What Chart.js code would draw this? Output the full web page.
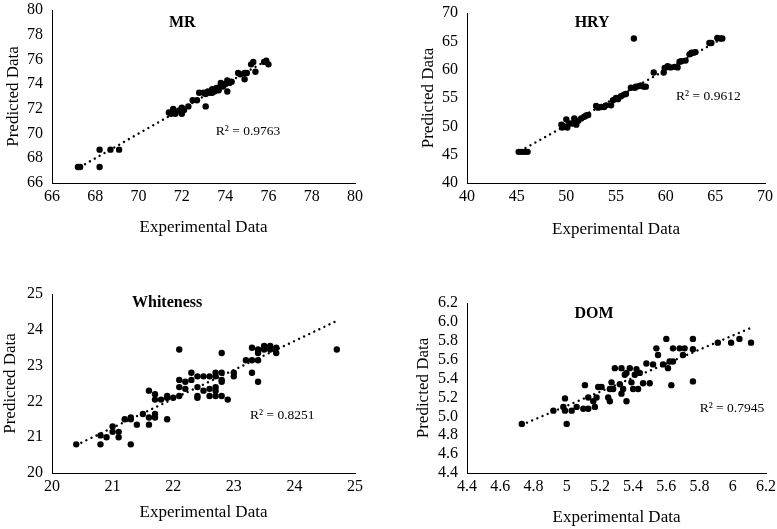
<!DOCTYPE html>
<html>
<head>
<meta charset="utf-8">
<title>Predicted vs Experimental</title>
<script src="https://cdn.jsdelivr.net/npm/chart.js@4/dist/chart.umd.min.js"></script>
<style>
  body { margin: 0; background: #fff; }
  #wrap { position: relative; width: 777px; height: 529px; overflow: hidden; }
  #wrap canvas { position: absolute; }
</style>
</head>
<body>
<div id="wrap">
  <canvas id="mr"></canvas>
  <canvas id="hry"></canvas>
  <canvas id="wh"></canvas>
  <canvas id="dom"></canvas>
</div>
<script>
// ===== DATA =====

// MR
const mrExp  = [67.2, 67.3, 68.2, 68.2, 68.7, 69.1, 71.4, 71.5, 71.6, 71.6, 71.7, 71.8, 71.9, 72.0, 72.0, 72.1, 72.3, 72.5, 72.7, 72.8, 73.0, 73.1, 73.1, 73.2, 73.3, 73.4, 73.5, 73.6, 73.7, 73.8, 73.8, 73.9, 74.0, 74.1, 74.1, 74.2, 74.3, 74.6, 74.7, 74.9, 74.9, 75.0, 75.2, 75.3, 75.4, 75.8, 75.9, 76.0, 73.4, 73.6, 73.9];
const mrPred = [67.3, 67.3, 68.7, 67.3, 68.7, 68.7, 71.7, 71.6, 71.8, 72.0, 71.6, 71.8, 71.9, 72.1, 71.6, 71.9, 72.2, 72.7, 72.7, 73.3, 73.3, 72.2, 73.2, 73.4, 73.3, 73.6, 73.4, 73.7, 73.5, 73.9, 74.1, 73.8, 74.0, 73.4, 74.3, 74.1, 74.2, 74.9, 74.8, 74.4, 74.9, 74.9, 75.6, 75.8, 75.0, 75.8, 75.9, 75.6, 73.3, 73.5, 74.0];
const mrTrendX = [67.3, 75.9];
const mrTrendY = [67.3, 75.9];
const mrTicks = [66, 68, 70, 72, 74, 76, 78, 80];

// HRY
const hryExp  = [45.2, 45.5, 45.8, 46.1, 49.5, 49.6, 49.8, 50.0, 50.1, 50.3, 50.6, 50.8, 51.0, 51.2, 51.5, 51.8, 52.0, 52.2, 53.0, 53.2, 53.5, 53.8, 54.0, 54.5, 54.7, 55.0, 55.2, 55.5, 55.8, 56.0, 56.5, 56.8, 56.9, 57.0, 57.3, 57.5, 57.8, 58.0, 58.8, 59.8, 59.9, 60.2, 60.5, 60.9, 61.2, 61.4, 61.6, 62.0, 62.4, 62.6, 62.8, 63.0, 64.4, 64.6, 65.2, 65.5, 65.7];
const hryPred = [45.5, 45.5, 45.5, 45.5, 50.3, 49.8, 50.0, 51.2, 49.8, 50.5, 50.5, 51.4, 50.3, 51.0, 51.4, 51.7, 51.9, 52.0, 53.6, 53.3, 53.4, 53.4, 53.7, 53.7, 54.6, 55.0, 54.8, 55.3, 55.6, 55.7, 56.8, 65.5, 56.8, 57.0, 57.1, 57.2, 57.0, 57.0, 59.5, 59.5, 60.3, 60.6, 60.4, 60.5, 60.4, 61.4, 61.5, 61.6, 62.7, 63.0, 63.0, 63.1, 64.7, 64.7, 65.6, 65.5, 65.5];
const hryTrendX = [45.4, 65.6];
const hryTrendY = [45.7, 65.4];
const hryTicks = [40, 45, 50, 55, 60, 65, 70];

// Whiteness
const whExp  = [20.4, 20.8, 20.8, 20.9, 21.0, 21.0, 21.1, 21.1, 21.2, 21.3, 21.3, 21.3, 21.4, 21.5, 21.6, 21.6, 21.6, 21.7, 21.7, 21.7, 21.7, 21.8, 21.9, 21.9, 21.9, 22.0, 22.1, 22.1, 22.1, 22.1, 22.2, 22.2, 22.3, 22.3, 22.4, 22.4, 22.4, 22.4, 22.5, 22.5, 22.6, 22.6, 22.6, 22.7, 22.7, 22.7, 22.7, 22.7, 22.8, 22.8, 22.8, 22.8, 22.8, 22.9, 23.0, 23.0, 23.2, 23.3, 23.3, 23.3, 23.4, 23.4, 23.4, 23.4, 23.5, 23.5, 23.6, 23.6, 23.7, 23.7, 24.7];
const whPred = [20.8, 20.8, 21.05, 21.0, 21.3, 21.15, 21.15, 21.0, 21.5, 20.8, 21.55, 21.5, 21.35, 21.65, 22.3, 21.55, 21.35, 22.2, 22.05, 21.65, 21.55, 22.05, 22.15, 22.1, 21.5, 22.1, 23.45, 22.6, 22.4, 22.15, 22.55, 22.35, 22.8, 22.6, 22.7, 22.4, 22.15, 22.1, 22.7, 22.3, 22.7, 22.35, 22.15, 22.8, 22.7, 22.4, 22.3, 22.15, 23.35, 22.8, 22.6, 22.55, 22.15, 22.05, 22.8, 22.7, 23.15, 23.5, 23.15, 22.8, 23.45, 23.35, 23.15, 22.55, 23.55, 23.45, 23.55, 23.45, 23.5, 23.35, 23.45];
const whTrendX = [20.4, 24.7];
const whTrendY = [20.78, 24.25];
const whTicks = [20, 21, 22, 23, 24, 25];

// DOM
const domExp  = [4.73, 4.92, 4.98, 4.99, 4.99, 5.00, 5.03, 5.06, 5.10, 5.11, 5.13, 5.13, 5.16, 5.17, 5.18, 5.19, 5.21, 5.25, 5.26, 5.26, 5.27, 5.28, 5.29, 5.32, 5.33, 5.33, 5.34, 5.35, 5.36, 5.36, 5.38, 5.39, 5.40, 5.41, 5.42, 5.43, 5.44, 5.46, 5.48, 5.50, 5.52, 5.54, 5.55, 5.58, 5.60, 5.61, 5.62, 5.63, 5.64, 5.64, 5.68, 5.70, 5.71, 5.76, 5.76, 5.76, 5.91, 5.99, 6.04, 6.11];
const domPred = [4.92, 5.06, 5.10, 5.19, 5.06, 4.92, 5.06, 5.10, 5.08, 5.33, 5.08, 5.20, 5.16, 5.10, 5.20, 5.31, 5.31, 5.20, 5.16, 5.29, 5.36, 5.29, 5.51, 5.34, 5.51, 5.24, 5.29, 5.44, 5.16, 5.46, 5.51, 5.36, 5.29, 5.44, 5.50, 5.29, 5.46, 5.35, 5.56, 5.35, 5.55, 5.72, 5.65, 5.55, 5.82, 5.51, 5.58, 5.33, 5.58, 5.72, 5.72, 5.65, 5.72, 5.82, 5.71, 5.37, 5.78, 5.78, 5.82, 5.78];
const domTrendX = [4.73, 6.10];
const domTrendY = [4.91, 5.93];
const domYTicks = [4.4, 4.6, 4.8, 5.0, 5.2, 5.4, 5.6, 5.8, 6.0, 6.2];
const domYLabels = ['4.4', '4.6', '4.8', '5.0', '5.2', '5.4', '5.6', '5.8', '6.0', '6.2'];
const domXTicks = [4.4, 4.6, 4.8, 5.0, 5.2, 5.4, 5.6, 5.8, 6.0, 6.2];
const domXLabels = ['4.4', '4.6', '4.8', '5', '5.2', '5.4', '5.6', '5.8', '6', '6.2'];

// ===== PANEL LAYOUT =====

const FONT = "'Liberation Serif', 'Times New Roman', serif";

const panels = [
    { id: 'mr', exp: mrExp, pred: mrPred, tx: mrTrendX, ty: mrTrendY,
      xTicks: mrTicks, yTicks: mrTicks, title: 'MR', r2: 'R\u00b2 = 0.9763',
      titlePos: [0.43, 0.075], r2Pos: [0.647, 0.70],
      box: { left: 3, top: 0, w: 385, h: 238 }, area: { left: 52, top: 10, right: 355, bottom: 183 } },
    { id: 'hry', exp: hryExp, pred: hryPred, tx: hryTrendX, ty: hryTrendY,
      xTicks: hryTicks, yTicks: hryTicks, title: 'HRY', r2: 'R\u00b2 = 0.9612',
      titlePos: [0.42, 0.06], r2Pos: [0.81, 0.49],
      box: { left: 418, top: 0, w: 359, h: 240 }, area: { left: 467, top: 13, right: 765, bottom: 183 } },
    { id: 'wh', exp: whExp, pred: whPred, tx: whTrendX, ty: whTrendY,
      xTicks: whTicks, yTicks: whTicks, title: 'Whiteness', r2: 'R\u00b2 = 0.8251',
      titlePos: [0.38, 0.05], r2Pos: [0.76, 0.68],
      box: { left: 0, top: 270, w: 385, h: 253 }, area: { left: 52, top: 294, right: 355, bottom: 473 } },
    { id: 'dom', exp: domExp, pred: domPred, tx: domTrendX, ty: domTrendY,
      xTicks: domXTicks, xLabels: domXLabels, yTicks: domYTicks, yLabels: domYLabels,
      title: 'DOM', r2: 'R\u00b2 = 0.7945',
      titlePos: [0.425, 0.065], r2Pos: [0.886, 0.62],
      box: { left: 413, top: 270, w: 364, h: 258 }, area: { left: 467, top: 303, right: 766, bottom: 473 } }
];

// draws the bold panel name and the R² label inside the plot
const labelPlugin = {
    id: 'panelLabels',
    afterDatasetsDraw(chart, args, opts) {
        const { ctx, chartArea: a } = chart;
        ctx.save();
        ctx.fillStyle = '#000';
        ctx.textAlign = 'center';
        ctx.textBaseline = 'middle';
        ctx.font = 'bold 16px ' + FONT;
        ctx.fillText(opts.title, a.left + opts.titlePos[0] * a.width, a.top + opts.titlePos[1] * a.height);
        ctx.font = '13.5px ' + FONT;
        ctx.fillText(opts.r2, a.left + opts.r2Pos[0] * a.width, a.top + opts.r2Pos[1] * a.height);
        ctx.restore();
    }
};

const makeAxis = (ticks, labels, titleText, fitSize, horizontal) => ({
    type: 'linear',
    position: horizontal ? 'bottom' : 'left',
    min: ticks[0],
    max: ticks[ticks.length - 1],
    grid: { display: false, drawTicks: false },
    border: { display: true, color: '#000', width: 1 },
    afterBuildTicks: axis => { axis.ticks = ticks.map(v => ({ value: v })); },
    afterFit: axis => {
        // pin the plot area: the layout padding alone decides where it sits
        if (horizontal) {
            axis.height = fitSize;
            axis.paddingLeft = 0;
            axis.paddingRight = 0;
        } else {
            axis.width = fitSize;
            axis.paddingTop = 0;
            axis.paddingBottom = 0;
        }
    },
    ticks: {
        color: '#000',
        font: { family: FONT, size: 16 },
        padding: horizontal ? 4 : 9,
        maxRotation: 0,
        autoSkip: false,
        callback: (value, index) => labels ? labels[index] : String(ticks[index])
    },
    title: {
        display: true,
        text: titleText,
        color: '#000',
        font: { family: FONT, size: 17 },
        padding: 0
    }
});

panels.forEach(p => {
    const canvas = document.getElementById(p.id);
    canvas.width = p.box.w;
    canvas.height = p.box.h;
    canvas.style.left = p.box.left + 'px';
    canvas.style.top = p.box.top + 'px';
    canvas.style.width = p.box.w + 'px';
    canvas.style.height = p.box.h + 'px';

    const yWidth = p.area.left - p.box.left;
    const xHeight = p.box.top + p.box.h - p.area.bottom;

    new Chart(canvas, {
        type: 'scatter',
        data: {
            datasets: [
                {
                    label: 'data',
                    data: p.exp.map((x, i) => ({ x: x, y: p.pred[i] })),
                    backgroundColor: '#000',
                    borderWidth: 0,
                    pointRadius: 3.2,
                    order: 1
                },
                {
                    label: 'trend',
                    type: 'line',
                    data: p.tx.map((x, i) => ({ x: x, y: p.ty[i] })),
                    borderColor: '#000',
                    borderWidth: 2.4,
                    borderDash: [0.01, 5.6],
                    borderCapStyle: 'round',
                    pointRadius: 0,
                    fill: false,
                    order: 2
                }
            ]
        },
        options: {
            responsive: false,
            animation: false,
            devicePixelRatio: 1,
            layout: {
                padding: {
                    left: 0,
                    top: p.area.top - p.box.top,
                    right: p.box.left + p.box.w - p.area.right,
                    bottom: 0
                }
            },
            plugins: {
                legend: { display: false },
                tooltip: { enabled: false },
                panelLabels: { title: p.title, r2: p.r2, titlePos: p.titlePos, r2Pos: p.r2Pos }
            },
            scales: {
                x: makeAxis(p.xTicks, p.xLabels, 'Experimental Data', xHeight, true),
                y: makeAxis(p.yTicks, p.yLabels, 'Predicted Data', yWidth, false)
            }
        },
        plugins: [labelPlugin]
    });
});
</script>
</body>
</html>
